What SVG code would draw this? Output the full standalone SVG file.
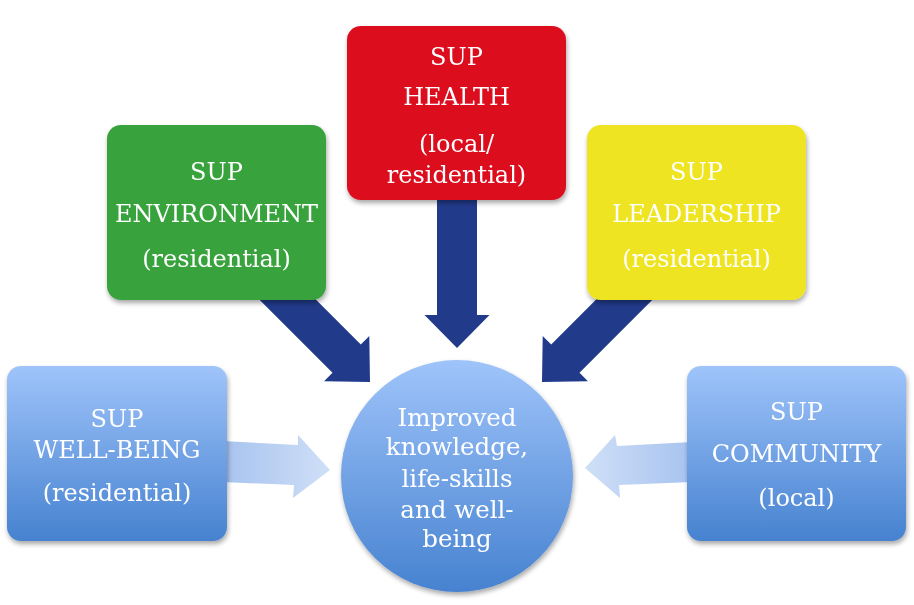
<svg xmlns="http://www.w3.org/2000/svg" width="914" height="605" viewBox="0 0 914 605">
<defs>
<linearGradient id="bl" x1="0" y1="0" x2="0" y2="1">
<stop offset="0" stop-color="#9fc4fa"/>
<stop offset="1" stop-color="#4682d0"/>
</linearGradient>
<linearGradient id="la" x1="0" y1="0" x2="1" y2="0">
<stop offset="0" stop-color="#a7c3ef"/>
<stop offset="1" stop-color="#cfdff7"/>
</linearGradient>
<linearGradient id="ra" x1="1" y1="0" x2="0" y2="0">
<stop offset="0" stop-color="#a7c3ef"/>
<stop offset="1" stop-color="#cfdff7"/>
</linearGradient>
<filter id="sh" x="-10%" y="-10%" width="125%" height="130%">
<feGaussianBlur in="SourceAlpha" stdDeviation="2.5"/>
<feOffset dx="1" dy="3" result="b"/>
<feComponentTransfer><feFuncA type="linear" slope="0.35"/></feComponentTransfer>
<feMerge><feMergeNode/><feMergeNode in="SourceGraphic"/></feMerge>
</filter>
</defs>
<style>
text{font-family:"DejaVu Serif","Liberation Serif",serif;font-size:24px;fill:#fff;text-anchor:middle}
.c{font-size:24.5px}
.dk{fill:#213a8a}
</style>
<rect width="914" height="605" fill="#fff"/>
<g id="connectors">
<polygon class="dk" transform="translate(457,348) rotate(90)" points="-155,-20 -33,-20 -33,-32.5 0,0 -33,32.5 -33,20 -155,20"/>
<polygon class="dk" transform="translate(370,382) rotate(45)" points="-150,-20 -33,-20 -33,-32 0,0 -33,32 -33,20 -150,20"/>
<polygon class="dk" transform="translate(542,382) rotate(135)" points="-150,-20 -33,-20 -33,-32 0,0 -33,32 -33,20 -150,20"/>
<polygon fill="url(#la)" points="222,441 298,445 298,435 330,470 293,498 294,485 222,482"/>
<polygon fill="url(#ra)" points="692,442 617,446 615,435 585,468 620,498 619,485 692,482"/>
</g>
<g id="n-health" filter="url(#sh)">
<rect x="347" y="26" width="219" height="174" rx="14" fill="#dc0b1e"/>
<text x="456.5" y="65">SUP</text>
<text x="456.5" y="105">HEALTH</text>
<text x="456.5" y="152">(local/</text>
<text x="456.5" y="183">residential)</text>
</g>
<g id="n-env" filter="url(#sh)">
<rect x="107" y="125" width="219" height="175" rx="14" fill="#39a23e"/>
<text x="216.5" y="180">SUP</text>
<text x="216.5" y="222">ENVIRONMENT</text>
<text x="216.5" y="267">(residential)</text>
</g>
<g id="n-lead" filter="url(#sh)">
<rect x="587" y="125" width="219" height="175" rx="14" fill="#eee422"/>
<text x="696.5" y="180">SUP</text>
<text x="696.5" y="222">LEADERSHIP</text>
<text x="696.5" y="267">(residential)</text>
</g>
<g id="n-wellbeing" filter="url(#sh)">
<rect x="7" y="366" width="220" height="175" rx="14" fill="url(#bl)"/>
<text x="117" y="427">SUP</text>
<text x="117" y="458">WELL-BEING</text>
<text x="117" y="501">(residential)</text>
</g>
<g id="n-community" filter="url(#sh)">
<rect x="687" y="366" width="219" height="175" rx="14" fill="url(#bl)"/>
<text x="796.5" y="420">SUP</text>
<text x="796.5" y="462">COMMUNITY</text>
<text x="796.5" y="506">(local)</text>
</g>
<g id="n-center" filter="url(#sh)">
<circle cx="457" cy="476" r="116" fill="url(#bl)"/>
<text class="c" x="457" y="426">Improved</text>
<text class="c" x="457" y="455">knowledge,</text>
<text class="c" x="457" y="487">life-skills</text>
<text class="c" x="457" y="518">and well-</text>
<text class="c" x="457" y="547">being</text>
</g>
</svg>
